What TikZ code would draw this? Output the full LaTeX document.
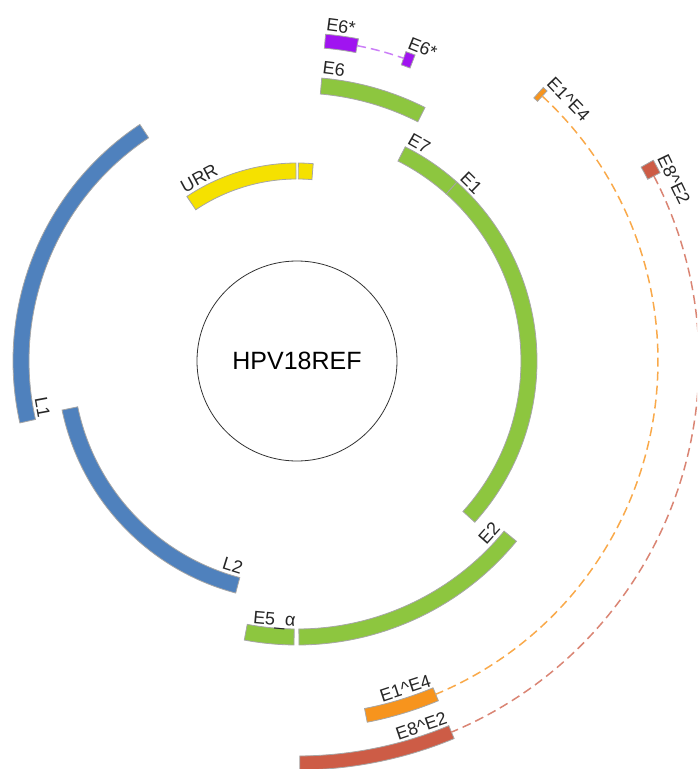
\documentclass[tikz,border=0pt]{standalone}
\usepackage{fontspec}
\setmainfont{Liberation Sans}
\usepackage{tikz}
\usetikzlibrary{positioning}
\definecolor{Leaf}{RGB}{141,198,63}
\definecolor{Steel}{RGB}{79,129,189}
\definecolor{Lemon}{RGB}{245,225,0}
\definecolor{Violet}{RGB}{160,20,240}
\definecolor{Amber}{RGB}{247,148,29}
\definecolor{Brick}{RGB}{205,92,70}

% one feature on a ring: style, inner r, outer r, start angle, end angle
\newcommand{\orf}[5]{%
  \draw[#1] (#4:#3) arc[start angle=#4, end angle=#5, radius=#3]
    -- (#5:#2) arc[start angle=#5, end angle=#4, radius=#2] -- cycle;}

\begin{document}
\begin{tikzpicture}[x=1pt, y=1pt,
    orfbox/.style={draw=gray!70, line width=0.8pt},
    lbl/.style={font=\fontsize{18}{18}\selectfont, text=black!85, inner sep=0pt, anchor=base},
    intron/.style={line width=1.5pt, dash pattern=on 9pt off 5pt}]
  \useasboundingbox (-297,-408) rectangle (400,361);
  \clip (-297,-408) rectangle (400,361);

  % genome in the middle
  \node[draw=black!80, line width=0.8pt, circle, minimum size=200pt, inner sep=0pt,
        font=\fontsize{25}{25}\selectfont] (genome) at (0,0) {HPV18REF};

  % ring 1
  \orf{orfbox, fill=Lemon}{182}{198}{123.8}{90.3}
  \orf{orfbox, fill=Lemon}{182}{198}{89.6}{85.3}
  % ring 2
  \orf{orfbox, fill=Leaf}{224}{240}{63.2}{48.2}
  \orf{orfbox, fill=Leaf}{224}{240}{48.2}{-42.2}
  \orf{orfbox, fill=Steel}{224}{240}{255.2}{191.8}
  % ring 3
  \orf{orfbox, fill=Leaf}{268}{284}{85}{63.2}
  \orf{orfbox, fill=Leaf}{268}{284}{-39.4}{-89.6}
  \orf{orfbox, fill=Leaf}{268}{284}{-90.6}{-100.7}
  \orf{orfbox, fill=Steel}{268}{284}{192.6}{123.6}
  % spliced transcripts
  \orf{orfbox, fill=Violet}{314}{328}{85}{79.2}
  \orf{orfbox, fill=Violet}{314}{328}{70.6}{68.9}
  \orf{orfbox, fill=Amber}{354}{368}{48}{47.2}
  \orf{orfbox, fill=Amber}{354}{368}{-67.4}{-79}
  \orf{orfbox, fill=Brick}{395}{409}{29.4}{27.4}
  \orf{orfbox, fill=Brick}{395}{409}{-67.4}{-89.6}

  % introns
  \coordinate (vio) at (79.2:321);
  \coordinate (amb) at (47.2:361);
  \coordinate (brk) at (27.4:402);
  \draw[intron, Violet!55] (vio) arc[start angle=79.2, end angle=70.6, radius=321];
  \draw[intron, Amber!80] (amb) arc[start angle=47.2, end angle=-67.4, radius=361];
  \draw[intron, Brick!75] (brk) arc[start angle=27.4, end angle=-67.4, radius=402];

  % labels
  \node[lbl, rotate=28.2] (urr) at (118.2:201) {URR};
  \node[lbl, rotate=-7.2] (e6) at (82.8:288) {E6};
  \node[lbl, rotate=-29.4] (e7) at (60.6:243) {E7};
  \node[lbl, rotate=-44.4] (e1) at (45.6:243) {E1};
  \node[lbl, rotate=48.2] (e2) at (318.2:264) {E2};
  \node[lbl, rotate=-5] (e5) at (265:265) {E5\_α};
  \node[lbl, rotate=-17.4] (l2) at (252.6:221) {L2};
  \node[lbl, rotate=-79.6] (l1) at (190.4:265) {L1};
  \node[lbl, rotate=-7.5] (e6sa) at (82.5:331) {E6*};
  \node[lbl, rotate=-21.9] (e6sb) at (68.1:331) {E6*};
  \node[lbl, rotate=-46] (e14a) at (43.95:371) {E1\textasciicircum E4};
  \node[lbl, rotate=18.3] (e14b) at (288.3:351) {E1\textasciicircum E4};
  \node[lbl, rotate=-64.3] (e82a) at (25.7:412) {E8\textasciicircum E2};
  \node[lbl, rotate=18.8] (e82b) at (288.8:392) {E8\textasciicircum E2};
\end{tikzpicture}
\end{document}
